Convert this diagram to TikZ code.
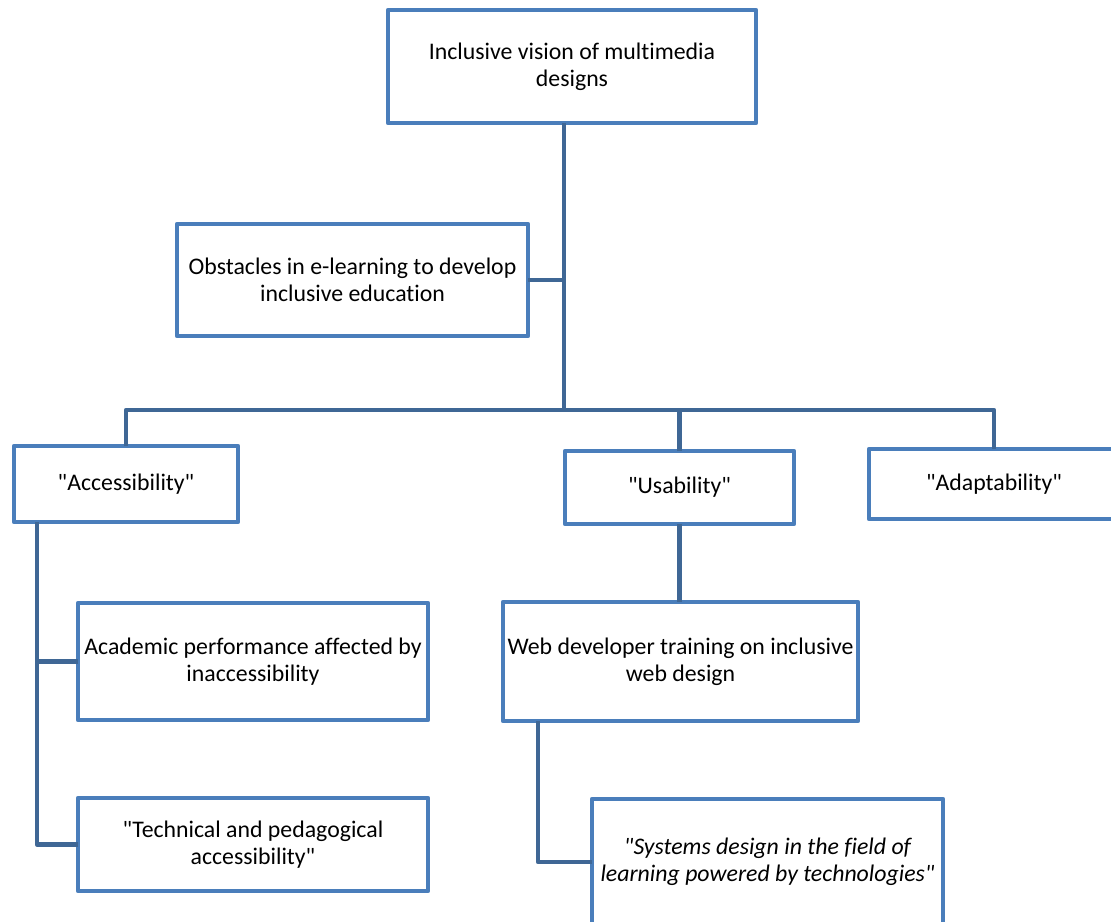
\documentclass[tikz,border=0pt]{standalone}
\usepackage{fontspec}
\setmainfont{Carlito}[Ligatures={TeXOff,NoCommon}]
\definecolor{boxblue}{HTML}{4A7EBB}
\definecolor{lineblue}{HTML}{3F6795}
\begin{document}
\begin{tikzpicture}[x=1pt,y=-1pt,
  box/.style={draw=boxblue, line width=4.5pt, rectangle, align=center, inner sep=0pt, outer sep=0pt,
    font=\fontsize{23.8}{27}\selectfont, text=black, line join=round},
  conn/.style={draw=lineblue, line width=4.5pt, line join=round}]
\useasboundingbox (0,0) rectangle (1111,921);
\clip (0,0) rectangle (1111,921);
\node[box, minimum width=368pt, minimum height=113pt] (top) at (572,66.5) {Inclusive vision of multimedia\\designs};
\node[box, minimum width=351pt, minimum height=112pt] (obst) at (352.5,280) {Obstacles in e-learning to develop\\inclusive education};
\node[box, minimum width=224pt, minimum height=76pt] (acc) at (126,484) {"Accessibility"};
\node[box, minimum width=229pt, minimum height=73pt] (use) at (679.5,487.5) {"Usability"};
\node[box, minimum width=250pt, minimum height=70pt] (adapt) at (994,484) {"Adaptability"};
\node[box, minimum width=350pt, minimum height=117pt] (acad) at (253,661.5) {Academic performance affected by\\inaccessibility};
\node[box, minimum width=350pt, minimum height=93pt] (tech) at (253,844.5) {"Technical and pedagogical\\accessibility"};
\node[box, minimum width=355pt, minimum height=119pt] (web) at (680.5,661.5) {Web developer training on inclusive\\web design};
\node[box, minimum width=351pt, minimum height=126pt] (sys) at (767.5,862) {\itshape "Systems design in the field of\\\itshape learning powered by technologies"};
\coordinate (hub) at (564,410);
\coordinate (accv) at (37,522);
\coordinate (webv) at (538,721);
\draw[conn] (top.south -| hub) -- (hub);
\draw[conn] (obst.east) -- (obst.east -| hub);
\draw[conn] (acc.north) |- (hub) -| (adapt.north);
\draw[conn] (use.north) -- (use.north |- hub);
\draw[conn] (accv) |- (tech.west);
\draw[conn] (acad.west -| accv) -- (acad.west);
\draw[conn] (use.south) -- (use.south |- web.north);
\draw[conn] (webv) |- (sys.west);
\end{tikzpicture}
\end{document}
